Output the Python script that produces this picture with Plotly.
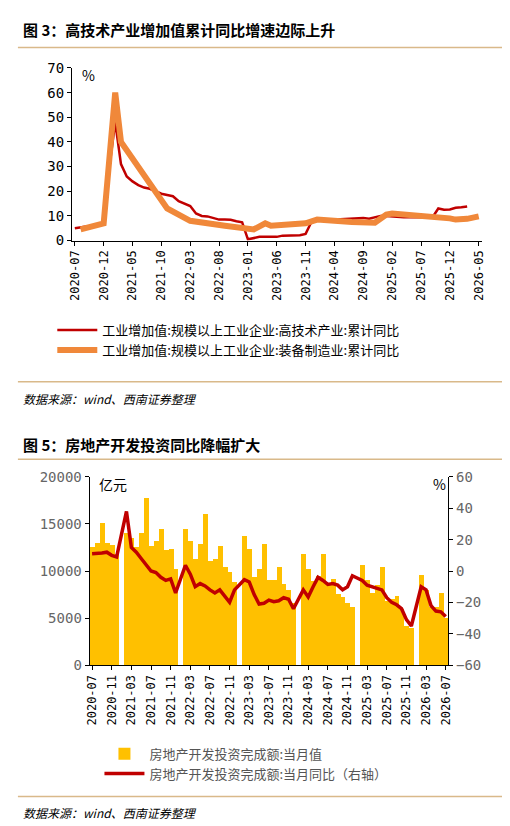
import plotly.graph_objects as go

# ---- chart 1 data (monthly, 2020-07 .. 2026-05)
months1 = [f"{y}-{m:02d}" for y in range(2020, 2027) for m in range(1, 13)]
months1 = months1[months1.index("2020-07"):months1.index("2026-05") + 1]
hitech = [5, 5.5, 5.7, 5.8, 6.2, 7,
          30, 48, 31, 26, 24, 22.5, 21.5, 21, 20, 19, 18.5, 18,
          16, 15, 14, 11, 10, 9.8, 9.2, 8.5, 8.5, 8.4, 7.8, 7.4,
          0.5, 1, 1.5, 1.5, 1.5, 1.5, 2, 2, 2.2, 2.2, 2.7, 7.5,
          8, 8.3, 8.5, 8.6, 8.6, 8.8, 9, 9.2, 9.2, 8.9, 9.5, 10,
          10, 9.8, 9.5, 9.5, 9.6, 9.6, 9.5, 9.5, 9.5, 13, 12.5, 12.6,
          13.3, 13.5, 13.8]
hitech = hitech[:len(months1)]
equip_m = ["2020-08", "2020-12", "2021-02", "2021-03", "2021-11", "2022-03", "2022-09",
           "2023-02", "2023-04", "2023-05", "2023-11", "2024-01", "2024-07", "2024-11",
           "2025-01", "2025-02", "2025-12", "2026-01", "2026-03", "2026-05"]
equip_v = [4.5, 7, 60, 40, 13, 8, 6, 4.5, 7, 6, 7, 8.5, 7.5, 7.2, 10.5, 11, 9, 8.5, 8.8, 9.8]
ticks1 = months1[::5]

# ---- chart 2 data (monthly, 2020-07 .. 2026-07), January missing
months2 = [f"{y}-{m:02d}" for y in range(2020, 2027) for m in range(1, 13)]
months2 = months2[months2.index("2020-07"):months2.index("2026-07") + 1]
inv = {
    2020: [12600, 13000, 15100, 13000, 12800, 11800],
    2021: [14000, 13500, 12600, 14000, 17800, 12700, 13200, 14500, 12200, 12400, 10200],
    2022: [14500, 13200, 11300, 12900, 16100, 11100, 11300, 12700, 10400, 9900, 8900],
    2023: [13700, 12300, 9400, 10200, 12900, 9100, 9100, 10400, 8600, 8000, 6600],
    2024: [11800, 10200, 9000, 9500, 11800, 8500, 9200, 7600, 7300, 6600, 6200],
    2025: [10700, 9100, 7700, 8500, 10400, 6800, 7000, 7400, 6000, 4200, 4000],
    2026: [9600, 8000, 6200, 6200, 7700, 5000],
}
yoy = {
    2020: [11, 11, 11.5, 12, 10, 9],
    2021: [38, 15, 12, 8, 4, 0, -1, -4, -6, -5, -14],
    2022: [3.7, -2, -10, -8, -9.5, -12, -14, -12, -16, -19.9, -12],
    2023: [-5.5, -7, -15, -21, -20.5, -18.5, -19.5, -19, -17, -18, -24],
    2024: [-12, -16.5, -10, -4, -6, -8.5, -8, -9, -12, -10, -3],
    2025: [-6, -9, -10, -11, -12, -17, -20, -21.5, -24, -31, -35],
    2026: [-10, -12, -22, -25.5, -26, -29],
}
def flat(d):
    out = list(d[2020])
    for y in range(2021, 2027):
        out += [None] + d[y]
    return out
inv_v = flat(inv)
yoy_v = flat(yoy)
ticks2 = months2[::4]

W, H = 510, 826
def py(p): return 1 - p / H

fig = go.Figure()
fig.add_trace(go.Scatter(x=months1, y=hitech, mode="lines", line=dict(color="#C00000", width=2.5),
                         name="工业增加值:规模以上工业企业:高技术产业:累计同比", legend="legend"))
fig.add_trace(go.Scatter(x=equip_m, y=equip_v, mode="lines", line=dict(color="#F0883A", width=6),
                         name="工业增加值:规模以上工业企业:装备制造业:累计同比", legend="legend"))
fig.add_trace(go.Bar(x=months2, y=inv_v, marker=dict(color="#FFC000", line=dict(width=0)),
                     width=1.0, xaxis="x2", yaxis="y2",
                     name="房地产开发投资完成额:当月值", legend="legend2"))
fig.add_trace(go.Scatter(x=months2, y=yoy_v, mode="lines", connectgaps=True,
                         line=dict(color="#C00000", width=3.5), xaxis="x2", yaxis="y3",
                         name="房地产开发投资完成额:当月同比（右轴）", legend="legend2"))

mono = "DejaVu Sans Mono"
ax = dict(showgrid=False, showline=True, linecolor="black", ticks="outside", ticklen=4,
          tickcolor="black", zeroline=False)
fig.update_layout(
    width=W, height=H, margin=dict(l=0, r=0, t=0, b=0), plot_bgcolor="white", paper_bgcolor="white",
    font=dict(family="Noto Sans CJK SC", size=13, color="black"), bargap=0,
    xaxis=dict(**ax, domain=[60 / W, 477 / W], type="category", categoryarray=months1,
               tickvals=ticks1, tickangle=-90, anchor="y", tickfont=dict(family=mono, size=12),
               range=[-0.5, len(months1) - 0.5]),
    yaxis=dict(**ax, domain=[py(229), py(53)], range=[0, 70], dtick=10,
               tickfont=dict(family=mono, size=14)),
    xaxis2=dict(**ax, domain=[78 / W, 443 / W], type="category", categoryarray=months2,
                tickvals=ticks2, tickangle=-90, anchor="y2", tickfont=dict(family=mono, size=12),
                range=[-0.5, len(months2) - 0.5]),
    yaxis2=dict(**ax, domain=[py(662), py(470)], range=[0, 20000], dtick=5000, anchor="x2",
                tickformat="d", tickfont=dict(family=mono, size=14, color="#666")),
    yaxis3=dict(**ax, overlaying="y2", side="right", range=[-60, 60], dtick=20, anchor="x2",
                tickfont=dict(family=mono, size=14, color="#666")),
    legend=dict(x=40 / W, y=py(305), xanchor="left", yanchor="top", font=dict(size=13),
                tracegroupgap=0, itemwidth=40, bgcolor="rgba(0,0,0,0)"),
    legend2=dict(x=88 / W, y=py(737), xanchor="left", yanchor="top", font=dict(size=13, color="#555"),
                 tracegroupgap=0, itemwidth=40, bgcolor="rgba(0,0,0,0)"),
    showlegend=True,
)
ann = [
    dict(x=8 / W, y=py(14), text="<b>图 3：高技术产业增加值累计同比增速边际上升</b>", size=15),
    dict(x=8 / W, y=py(437), text="<b>图 5：房地产开发投资同比降幅扩大</b>", size=15),
    dict(x=8 / W, y=py(390), text="<i>数据来源：wind、西南证券整理</i>", size=12),
    dict(x=8 / W, y=py(812), text="<i>数据来源：wind、西南证券整理</i>", size=12),
    dict(x=68 / W, y=py(60), text="%", size=14),
    dict(x=85 / W, y=py(477), text="亿元", size=14),
    dict(x=425 / W, y=py(477), text="%", size=14),
]
fig.update_layout(annotations=[dict(xref="paper", yref="paper", x=a["x"], y=a["y"], text=a["text"],
                                    showarrow=False, xanchor="left", yanchor="middle",
                                    font=dict(size=a["size"])) for a in ann])
for yy in [32, 373, 452, 796]:
    fig.add_shape(type="line", xref="paper", yref="paper", x0=5 / W, x1=503 / W, y0=py(yy), y1=py(yy),
                  line=dict(color="#D9B98A", width=1.5))
fig.write_html("out.html")
